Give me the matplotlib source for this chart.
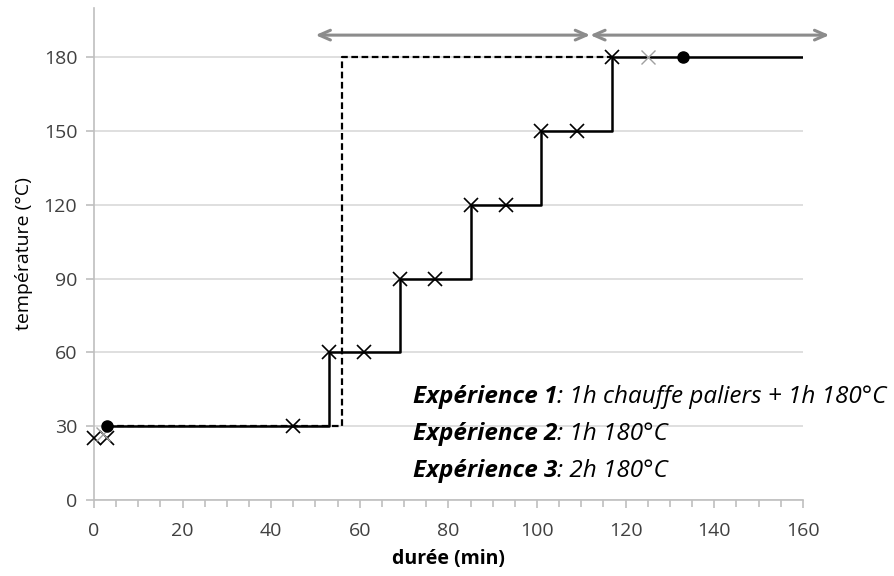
import matplotlib
matplotlib.use("Agg")
import matplotlib.pyplot as plt
from matplotlib.ticker import MultipleLocator

plt.rcParams['font.family'] = ['Open Sans', 'DejaVu Sans']

# Expérience 1 : chauffe par paliers (courbe en escalier)
exp1_t = [3, 53, 53, 69, 69, 85, 85, 101, 101, 117, 117, 160]
exp1_T = [30, 30, 60, 60, 90, 90, 120, 120, 150, 150, 180, 180]
# mesures (croix)
mes_t = [0, 3, 45, 53, 61, 69, 77, 85, 93, 101, 109, 117]
mes_T = [25, 25, 30, 60, 60, 90, 90, 120, 120, 150, 150, 180]
mes_gris_t = [2, 125]
mes_gris_T = [27, 180]
# Expérience 2 : montée directe (pointillés)
exp2_t = [3, 56, 56, 117]
exp2_T = [30, 30, 180, 180]
# points noirs
pts_t = [3, 133]
pts_T = [30, 180]
# flèches de durée
fleches = [(50, 112), (112, 166)]
y_fleche = 189

textes = [("Expérience 1", ": 1h chauffe paliers + 1h 180°C"),
          ("Expérience 2", ": 1h 180°C"),
          ("Expérience 3", ": 2h 180°C")]

fig = plt.figure(figsize=(8.95, 5.76), dpi=100)
ax = fig.add_axes([0.105, 0.132, 0.792, 0.854])

ax.plot(exp2_t, exp2_T, color='black', lw=1.6, ls=(0, (3, 1.6)), zorder=3)
ax.plot(exp1_t, exp1_T, color='black', lw=1.8, zorder=4)
ax.plot(mes_t, mes_T, ls='none', marker='x', ms=10, mew=1.2, color='black', zorder=5, clip_on=False)
ax.plot(mes_gris_t, mes_gris_T, ls='none', marker='x', ms=10, mew=1.0, color='#a0a0a0', zorder=5)
ax.plot(pts_t, pts_T, ls='none', marker='o', ms=8, color='black', zorder=6)

for x0, x1 in fleches:
    ax.annotate('', xy=(x1, y_fleche), xytext=(x0, y_fleche), annotation_clip=False,
                arrowprops=dict(arrowstyle='<->,head_length=0.8,head_width=0.35',
                                color='#8c8c8c', lw=2.2, shrinkA=0, shrinkB=0))

ax.set_xlim(0, 160)
ax.set_ylim(0, 200)
ax.set_xticks(range(0, 161, 20))
ax.xaxis.set_minor_locator(MultipleLocator(5))
ax.set_yticks(range(0, 181, 30))
ax.grid(axis='y', color='#d9d9d9', lw=1.2)
ax.set_axisbelow(True)

for s in ['top', 'right']:
    ax.spines[s].set_visible(False)
for s in ['left', 'bottom']:
    ax.spines[s].set_color('#bfbfbf')
    ax.spines[s].set_linewidth(1.2)
ax.tick_params(which='both', direction='out', color='#bfbfbf', width=1.2)
ax.tick_params(which='major', length=6, labelsize=14, labelcolor='#404040')
ax.tick_params(axis='x', which='major', pad=10)
ax.tick_params(axis='y', which='major', pad=6)
ax.tick_params(which='minor', length=5)

ax.set_xlabel('durée (min)', fontsize=14, fontweight='bold', labelpad=6)
ax.set_ylabel('température (°C)', fontsize=14, labelpad=8)

for i, (gras, reste) in enumerate(textes):
    y = 0.209 - i * 0.075
    t = ax.text(0.450, y, gras, transform=ax.transAxes, fontsize=17.5, fontweight='bold',
                style='italic', va='center', ha='left')
    ax.annotate(reste, xy=(1, 0.5), xycoords=t, fontsize=17.5, style='italic',
                va='center', ha='left')

fig.savefig('out.png', dpi=100)
